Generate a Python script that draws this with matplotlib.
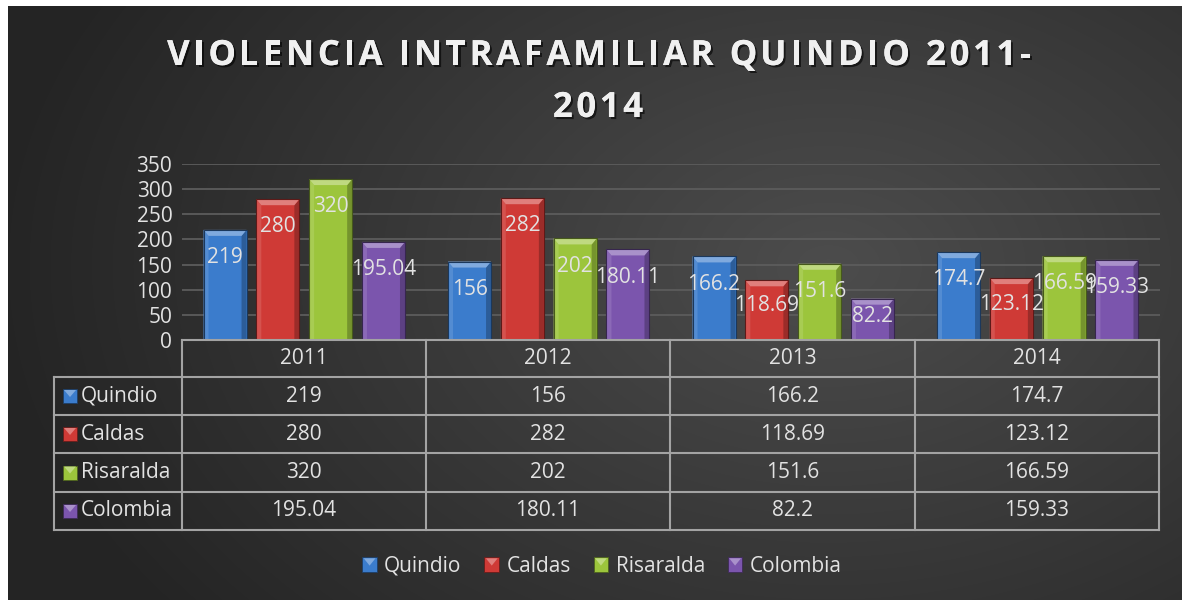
import numpy as np
import matplotlib
matplotlib.use("Agg")
import matplotlib.pyplot as plt
from matplotlib.patches import Rectangle, Polygon
from matplotlib.lines import Line2D
from matplotlib.legend_handler import HandlerBase
import matplotlib.patheffects as pe
from matplotlib.colors import to_rgb

plt.rcParams["font.family"] = ["Open Sans", "DejaVu Sans"]

# ---- data ----
years = ["2011", "2012", "2013", "2014"]
series_names = ["Quindio", "Caldas", "Risaralda", "Colombia"]
quindio = [219, 156, 166.2, 174.7]
caldas = [280, 282, 118.69, 123.12]
risaralda = [320, 202, 151.6, 166.59]
colombia = [195.04, 180.11, 82.2, 159.33]
series_values = [quindio, caldas, risaralda, colombia]
y_ticks = [0, 50, 100, 150, 200, 250, 300, 350]
title_lines = ["VIOLENCIA INTRAFAMILIAR QUINDIO 2011-", "2014"]

# ---- style ----
colors = ["#3b7ccc", "#cf3a36", "#9cc53c", "#7b55ad"]
text_col = "#e2e2e2"
line_col = "#a3a3a3"
W, H = 1182, 600


def fx(px):
    return px / W


def fy(py):
    return 1 - py / H


def shade(c, f):
    r = np.array(to_rgb(c))
    if f >= 0:
        return tuple(r + (1 - r) * f)
    return tuple(r * (1 + f))


fig = plt.figure(figsize=(W / 100, H / 100), dpi=100)
fig.patch.set_facecolor("white")
renderer = fig.canvas.get_renderer()

# dark radial-gradient chart area
bg = fig.add_axes([fx(8), 0, 1 - fx(8), fy(6)])
bg.set_axis_off()
gh, gw = 594, 1174
yy, xx = np.mgrid[0:gh, 0:gw]
r = np.clip(np.hypot((xx - 820) / 820, (yy - 260) / 560), 0, 1)
inner, outer = np.array([0.30, 0.30, 0.30]), np.array([0.145, 0.145, 0.145])
img = inner[None, None, :] * (1 - r[..., None]) + outer[None, None, :] * r[..., None]
bg.imshow(img, extent=(0, gw, gh, 0), aspect="auto", interpolation="bilinear")
bg.set_xlim(0, gw)
bg.set_ylim(gh, 0)

# ---- bar plot ----
ax = fig.add_axes([fx(182), fy(340), fx(1160) - fx(182), (340 - 164) / H])
ax.patch.set_alpha(0)
ax.set_xlim(0, len(years))
ax.set_ylim(0, 350)
ax.set_yticks(y_ticks)
ax.set_yticklabels([str(t) for t in y_ticks])
ax.set_xticks([])
ax.tick_params(axis="y", length=0, pad=7, labelsize=15, labelcolor=text_col)
for s in ax.spines.values():
    s.set_visible(False)
ax.yaxis.grid(True, color="#5c5c5c", lw=1.3)
ax.set_axisbelow(True)

bar_w = 0.176
step = 0.216
px_x = 1 / 244.5
px_y = 350 / 176
bx, by = 5 * px_x, 6 * px_y


def bevel_bar(x0, h, c):
    x1 = x0 + bar_w
    ax.add_patch(Rectangle((x0, 0), bar_w, h, facecolor=c, edgecolor="none", zorder=3))
    ax.add_patch(Polygon([(x0, 0), (x0, h), (x0 + bx, h - by), (x0 + bx, 0)],
                         closed=True, facecolor=shade(c, 0.12), edgecolor="none", zorder=3))
    ax.add_patch(Polygon([(x1, 0), (x1, h), (x1 - bx, h - by), (x1 - bx, 0)],
                         closed=True, facecolor=shade(c, -0.25), edgecolor="none", zorder=3))
    ax.add_patch(Polygon([(x0, h), (x1, h), (x1 - bx, h - by), (x0 + bx, h - by)],
                         closed=True, facecolor=shade(c, 0.35), edgecolor="none", zorder=3))
    ax.add_patch(Rectangle((x0, 0), bar_w, h, facecolor="none",
                           edgecolor=shade(c, -0.55), lw=0.8, zorder=4))


for si, (vals, c) in enumerate(zip(series_values, colors)):
    for yi, v in enumerate(vals):
        cx = yi + 0.5 + (si - 1.5) * step
        bevel_bar(cx - bar_w / 2, v, c)
        ax.text(cx, v - min(55, 0.42 * v), f"{v:g}", ha="center", va="center",
                fontsize=15, color=text_col, zorder=5)

# ---- title (letter-spaced, centred) ----
title_kw = dict(fontsize=25, fontweight="bold", color="#f0f0f0",
                path_effects=[pe.withSimplePatchShadow(offset=(1.5, -1.5),
                                                       shadow_rgbFace="black", alpha=0.6),
                              pe.Normal()])


def text_width(s):
    t = fig.text(0, 0, s + "X", **title_kw)
    w = t.get_window_extent(renderer).width
    t.remove()
    t = fig.text(0, 0, "X", **title_kw)
    w -= t.get_window_extent(renderer).width
    t.remove()
    return w


def tracked_line(s, cx_px, baseline_px, track_px):
    total = text_width(s) + track_px * (len(s) - 1)
    x_start = cx_px - total / 2
    for i, ch in enumerate(s):
        if ch == " ":
            continue
        x = x_start + text_width(s[:i]) + track_px * i
        fig.text(fx(x), fy(baseline_px), ch, ha="left", va="baseline", **title_kw)


tracked_line(title_lines[0], 599, 65, 3.6)
tracked_line(title_lines[1], 598, 117, 3.6)

# ---- data table ----
col_x = [182, 426, 670, 915, 1159]
row_y = [340, 377, 415, 453, 492, 530]
left_x = 54


def hline(x0, x1, y):
    fig.add_artist(Line2D([fx(x0), fx(x1)], [fy(y), fy(y)], color=line_col, lw=1.5))


def vline(x, y0, y1):
    fig.add_artist(Line2D([fx(x), fx(x)], [fy(y0), fy(y1)], color=line_col, lw=1.5))


hline(col_x[0], col_x[-1], row_y[0])
for y in row_y[1:]:
    hline(left_x, col_x[-1], y)
for x in col_x:
    vline(x, row_y[0], row_y[-1])
vline(left_x, row_y[1], row_y[-1])

for ci, yr in enumerate(years):
    fig.text(fx((col_x[ci] + col_x[ci + 1]) / 2), fy((row_y[0] + row_y[1]) / 2), yr,
             ha="center", va="center", fontsize=15, color=text_col)


def marker_square(cx, cy, c, size=14):
    x0, y0 = fx(cx - size / 2), fy(cy + size / 2)
    fig.add_artist(Rectangle((x0, y0), fx(size), size / H, transform=fig.transFigure,
                             facecolor=c, edgecolor=shade(c, -0.5), lw=0.6))
    fig.add_artist(Polygon([(fx(cx - size / 2 + 1), fy(cy - size / 2 + 1)),
                            (fx(cx + size / 2 - 1), fy(cy - size / 2 + 1)),
                            (fx(cx), fy(cy + 1))], closed=True,
                           transform=fig.transFigure, facecolor=shade(c, 0.35),
                           edgecolor="none"))


for si, (name, vals, c) in enumerate(zip(series_names, series_values, colors)):
    cy = (row_y[si + 1] + row_y[si + 2]) / 2
    marker_square(70, cy, c)
    fig.text(fx(81), fy(cy), name, ha="left", va="center", fontsize=15, color=text_col)
    for ci, v in enumerate(vals):
        fig.text(fx((col_x[ci] + col_x[ci + 1]) / 2), fy(cy), f"{v:g}",
                 ha="center", va="center", fontsize=15, color=text_col)


# ---- legend ----
class BevelSquare(HandlerBase):
    def create_artists(self, legend, orig_handle, xdescent, ydescent, width, height,
                       fontsize, trans):
        c = orig_handle.get_facecolor()
        s = min(width, height)
        x0 = -xdescent + (width - s) / 2
        y0 = -ydescent + (height - s) / 2
        sq = Rectangle((x0, y0), s, s, facecolor=c, edgecolor=shade(c[:3], -0.5),
                       lw=0.6, transform=trans)
        tri = Polygon([(x0 + 1, y0 + s - 1), (x0 + s - 1, y0 + s - 1),
                       (x0 + s / 2, y0 + s / 2 - 1)], closed=True,
                      facecolor=shade(c[:3], 0.35), edgecolor="none", transform=trans)
        return [sq, tri]


handles = [Rectangle((0, 0), 1, 1, facecolor=c) for c in colors]
fig.legend(handles, series_names, loc="center", bbox_to_anchor=(fx(602), fy(566)),
           ncol=4, frameon=False, fontsize=15, handlelength=0.7, handleheight=0.7,
           handletextpad=0.35, columnspacing=1.1, labelcolor=text_col,
           handler_map={Rectangle: BevelSquare()})

fig.savefig("out.png", dpi=100, facecolor=fig.get_facecolor())
